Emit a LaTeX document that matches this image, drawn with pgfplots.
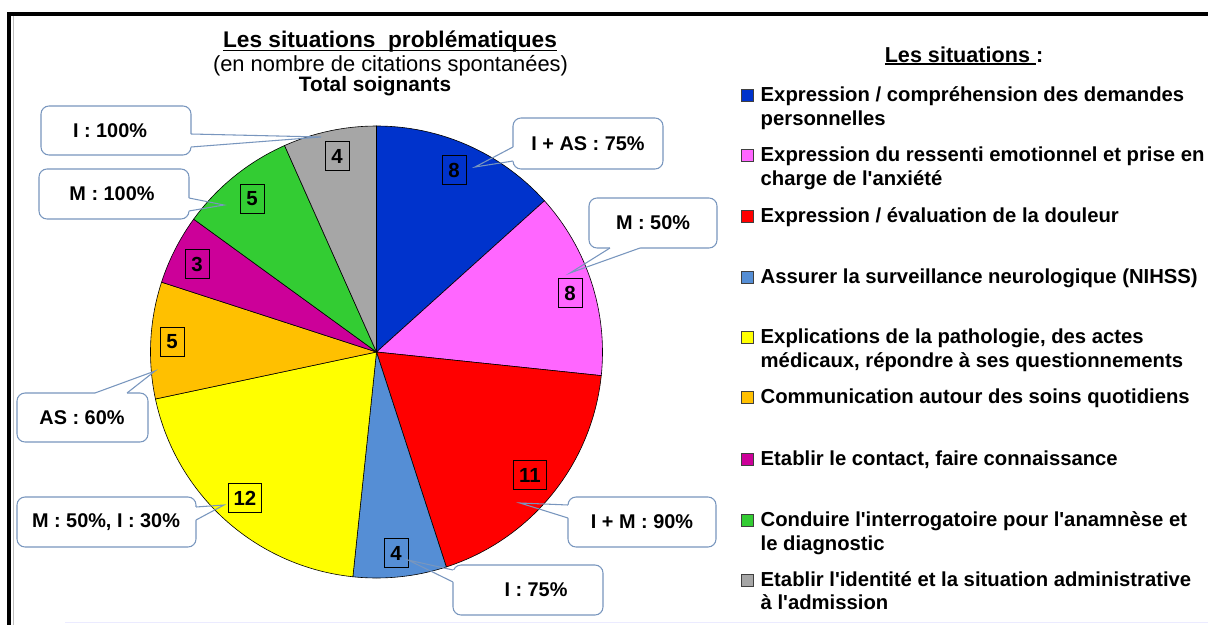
\documentclass[border=0pt]{standalone}
\usepackage{fontspec}
\setmainfont{Liberation Sans}
\usepackage{pgfplots}
\usepackage{pgfplotstable}
\pgfplotsset{compat=1.18}

\definecolor{cBlue}{RGB}{0,51,204}
\definecolor{cPink}{RGB}{255,102,255}
\definecolor{cRed}{RGB}{255,0,0}
\definecolor{cSteel}{RGB}{85,142,213}
\definecolor{cYellow}{RGB}{255,255,0}
\definecolor{cOrange}{RGB}{255,192,0}
\definecolor{cMagenta}{RGB}{204,0,153}
\definecolor{cGreen}{RGB}{51,204,51}
\definecolor{cGray}{RGB}{166,166,166}
\definecolor{cob}{RGB}{120,150,190}

\newcommand\ulx[2]{\setbox0\hbox{#1}\rlap{\rule[#2]{\wd0}{1.1pt}}\box0}

\pgfplotstableread{
val col lx ly
8 cBlue 454 170
8 cPink 570 293
11 cRed 530 475
4 cSteel 396 553
12 cYellow 245 498
5 cOrange 172 342
3 cMagenta 197 264
5 cGreen 252 199
4 cGray 337 156
}\piedata

\begin{document}
\begin{tikzpicture}
\pgfplotstablegetrowsof{\piedata}
\pgfmathtruncatemacro\nlast{\pgfplotsretval-1}
\gdef\total{0}
\foreach \i in {0,...,\nlast}{%
  \pgfplotstablegetelem{\i}{val}\of\piedata
  \pgfmathsetmacro\tt{\total+\pgfplotsretval}\xdef\total{\tt}}
\gdef\cur{90}
\foreach \i in {0,...,\nlast}{%
  \pgfplotstablegetelem{\i}{val}\of\piedata \let\myv\pgfplotsretval
  \pgfmathsetmacro\e{\cur-360*\myv/\total}
  \expandafter\xdef\csname sa\i\endcsname{\cur}
  \expandafter\xdef\csname ea\i\endcsname{\e}
  \expandafter\xdef\csname nv\i\endcsname{\myv}
  \pgfplotstablegetelem{\i}{col}\of\piedata \expandafter\xdef\csname co\i\endcsname{\pgfplotsretval}
  \pgfplotstablegetelem{\i}{lx}\of\piedata \expandafter\xdef\csname lx\i\endcsname{\pgfplotsretval}
  \pgfplotstablegetelem{\i}{ly}\of\piedata \expandafter\xdef\csname ly\i\endcsname{\pgfplotsretval}
  \xdef\cur{\e}}
\begin{axis}[x=0.75pt, y=0.75pt, y dir=reverse, xmin=0, xmax=1208, ymin=0, ymax=625,
  hide axis, clip=false, scale only axis,
  every node/.append style={inner sep=0pt}]
% background / bounding box
\fill[white] (axis cs:0,0) rectangle (axis cs:1208,625);
\coordinate (BL) at (axis cs:0,625);
\coordinate (TR) at (axis cs:1208,0);
% frame
\fill[black] (axis cs:7,12) rectangle (axis cs:1208,16);
\fill[black] (axis cs:7,12) rectangle (axis cs:10.5,625);
\draw[gray!50, line width=0.5pt] (axis cs:13.5,16) -- (axis cs:13.5,625);
\draw[blue!8, line width=1pt] (axis cs:65,622.5) -- (axis cs:1208,622.5);
% titles
\node[anchor=base, font=\fontsize{17}{19}\selectfont\bfseries] at (axis cs:390,47) {\ulx{Les situations\ \ problématiques}{-3pt}};
\node[anchor=base, font=\fontsize{16.4}{19}\selectfont] at (axis cs:390.5,71) {(en nombre de citations spontanées)};
\node[anchor=base, font=\fontsize{15.6}{19}\selectfont\bfseries] at (axis cs:375,91) {Total soignants};
% callout boxes
\tikzset{cbox/.style={draw=cob, fill=white, line width=0.8pt, rounded corners=6pt}}
\draw[cbox] (axis cs:41,106) rectangle (axis cs:191,155);
\draw[cbox] (axis cs:39,169) rectangle (axis cs:189,219);
\draw[cbox] (axis cs:17,393) rectangle (axis cs:148,442);
\draw[cbox] (axis cs:17,497) rectangle (axis cs:196,547);
\draw[cbox] (axis cs:513,118) rectangle (axis cs:663,169);
\draw[cbox] (axis cs:589,198) rectangle (axis cs:717,248);
\draw[cbox] (axis cs:568,497) rectangle (axis cs:716,547);
\draw[cbox] (axis cs:453,565) rectangle (axis cs:603,615);
% wedge fills
\fill[white] (axis cs:187,134) -- (axis cs:191,134) -- (axis cs:321,137) -- (axis cs:191,147) -- (axis cs:187,147) -- cycle;
\fill[white] (axis cs:185,198) -- (axis cs:189,198) -- (axis cs:224,205) -- (axis cs:189,211) -- (axis cs:185,211) -- cycle;
\fill[white] (axis cs:95,397) -- (axis cs:95,393) -- (axis cs:155,371) -- (axis cs:127,393) -- (axis cs:127,397) -- cycle;
\fill[white] (axis cs:192,507) -- (axis cs:196,507) -- (axis cs:224,505) -- (axis cs:196,520) -- (axis cs:192,520) -- cycle;
\fill[white] (axis cs:517,147) -- (axis cs:513,147) -- (axis cs:475,167) -- (axis cs:513,161) -- (axis cs:517,161) -- cycle;
\fill[white] (axis cs:610,244) -- (axis cs:610,248) -- (axis cs:570,273) -- (axis cs:640,248) -- (axis cs:640,244) -- cycle;
\fill[white] (axis cs:572,505) -- (axis cs:568,505) -- (axis cs:520,503) -- (axis cs:568,518) -- (axis cs:572,518) -- cycle;
\fill[white] (axis cs:457,570) -- (axis cs:453,570) -- (axis cs:408,560) -- (axis cs:453,582) -- (axis cs:457,582) -- cycle;
% pie
\pgfplotsinvokeforeach{0,...,\nlast}{%
  \edef\tmp{\noexpand\filldraw[fill=\csname co#1\endcsname, draw=black, line width=0.45pt] (axis cs:376.5,352) -- ++(\csname sa#1\endcsname:169.5pt) arc[start angle=\csname sa#1\endcsname, end angle=\csname ea#1\endcsname, radius=169.5pt] -- cycle;}\tmp
}
\pgfplotsinvokeforeach{0,...,\nlast}{%
  \edef\tmp{\noexpand\node[draw=black, line width=0.6pt, inner xsep=4pt, inner ysep=2pt, minimum width=18pt, minimum height=22pt, font=\noexpand\fontsize{15.3}{18}\noexpand\selectfont\noexpand\bfseries] at (axis cs:\csname lx#1\endcsname,\csname ly#1\endcsname) {\csname nv#1\endcsname};}\tmp
}
% wedge lines
\tikzset{cl/.style={draw=cob, line width=0.8pt}}
\draw[cl] (axis cs:191,134) -- (axis cs:321,137) -- (axis cs:191,147);
\draw[cl] (axis cs:189,198) -- (axis cs:224,205) -- (axis cs:189,211);
\draw[cl] (axis cs:95,393) -- (axis cs:155,371) -- (axis cs:127,393);
\draw[cl] (axis cs:196,507) -- (axis cs:224,505) -- (axis cs:196,520);
\draw[cl] (axis cs:513,147) -- (axis cs:475,167) -- (axis cs:513,161);
\draw[cl] (axis cs:610,248) -- (axis cs:570,273) -- (axis cs:640,248);
\draw[cl] (axis cs:568,505) -- (axis cs:520,503) -- (axis cs:568,518);
\draw[cl] (axis cs:453,570) -- (axis cs:408,560) -- (axis cs:453,582);
% callout texts
\tikzset{ct/.style={font=\fontsize{14.9}{17}\selectfont\bfseries}}
\node[ct] at (axis cs:110,130.5) {I : 100\%};
\node[ct] at (axis cs:112,194) {M : 100\%};
\node[ct] at (axis cs:82,417.5) {AS : 60\%};
\node[ct] at (axis cs:106,522) {M : 50\%, I : 30\%};
\node[ct] at (axis cs:588,143.5) {I + AS : 75\%};
\node[ct] at (axis cs:653,223) {M : 50\%};
\node[ct] at (axis cs:642,522) {I + M : 90\%};
\node[ct] at (axis cs:536,590) {I : 75\%};
% legend
\node[anchor=base, font=\fontsize{16.2}{19}\selectfont\bfseries] at (axis cs:964,62) {\ulx{Les situations }{-2.2pt}:};
\tikzset{lg/.style={anchor=base west, font=\fontsize{15.2}{18}\selectfont\bfseries},
  mk/.style={draw=black!75, line width=0.5pt}}
\fill[cBlue,mk] (axis cs:741,89) rectangle (axis cs:753,101);
\node[lg] at (axis cs:756,101) {Expression / compréhension des demandes};
\node[lg] at (axis cs:756,125) {personnelles};
\fill[cPink,mk] (axis cs:741,149) rectangle (axis cs:753,161);
\node[lg] at (axis cs:756,161) {Expression du ressenti emotionnel et prise en};
\node[lg] at (axis cs:756,185) {charge de l\textquotesingle anxiété};
\fill[cRed,mk] (axis cs:741,210) rectangle (axis cs:753,222);
\node[lg] at (axis cs:756,222) {Expression / évaluation de la douleur};
\fill[cSteel,mk] (axis cs:741,271) rectangle (axis cs:753,283);
\node[lg] at (axis cs:756,283) {Assurer la surveillance neurologique (NIHSS)};
\fill[cYellow,mk] (axis cs:741,331) rectangle (axis cs:753,343);
\node[lg] at (axis cs:756,343) {Explications de la pathologie, des actes};
\node[lg] at (axis cs:756,367) {médicaux, répondre à ses questionnements};
\fill[cOrange,mk] (axis cs:741,391) rectangle (axis cs:753,403);
\node[lg] at (axis cs:756,403) {Communication autour des soins quotidiens};
\fill[cMagenta,mk] (axis cs:741,453) rectangle (axis cs:753,465);
\node[lg] at (axis cs:756,465) {Etablir le contact, faire connaissance};
\fill[cGreen,mk] (axis cs:741,514) rectangle (axis cs:753,526);
\node[lg] at (axis cs:756,526) {Conduire l\textquotesingle interrogatoire pour l\textquotesingle anamnèse et};
\node[lg] at (axis cs:756,550) {le diagnostic};
\fill[cGray,mk] (axis cs:741,574) rectangle (axis cs:753,586);
\node[lg] at (axis cs:756,586) {Etablir l\textquotesingle identité et la situation administrative};
\node[lg] at (axis cs:756,609) {à l\textquotesingle admission};
\end{axis}
\pgfresetboundingbox
\path (BL) rectangle (TR);
\end{tikzpicture}
\end{document}
